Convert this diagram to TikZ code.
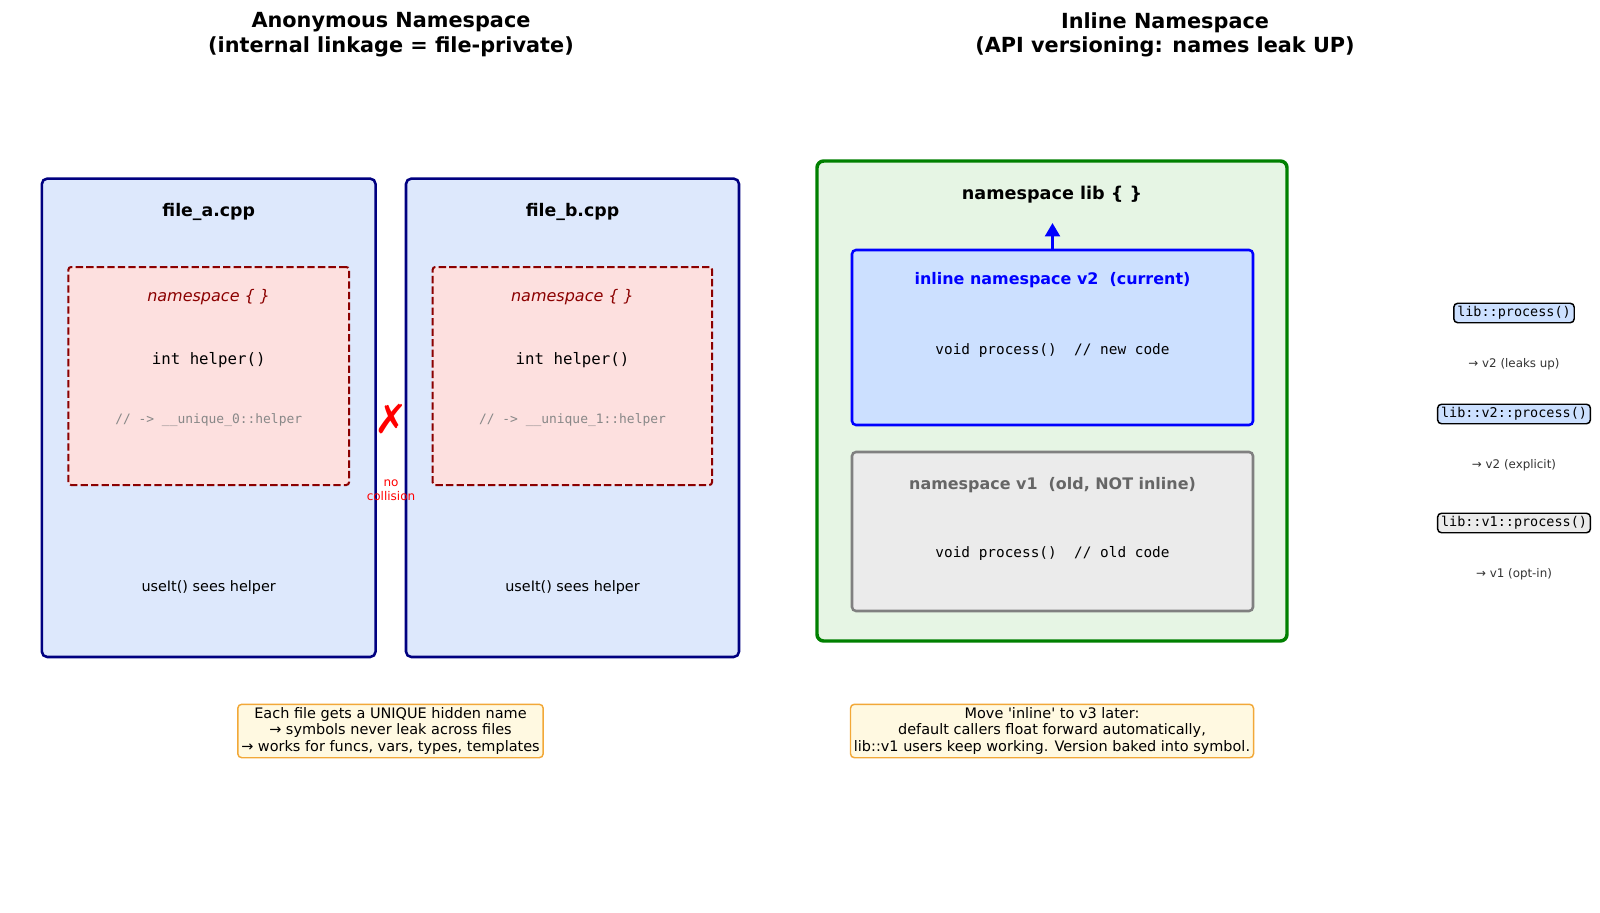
\documentclass[tikz,border=0pt]{standalone}
\usepackage{fontspec}
\setmainfont{DejaVu Sans}[Ligatures=TeXOff]
\setmonofont{DejaVu Sans Mono}
\usetikzlibrary{arrows.meta, positioning}

\definecolor{filefill}{HTML}{DDE8FC}
\definecolor{fileline}{HTML}{000080}
\definecolor{nsfill}{HTML}{FDE0DF}
\definecolor{nsline}{HTML}{8B0000}
\definecolor{libfill}{HTML}{E6F5E4}
\definecolor{libline}{HTML}{008000}
\definecolor{newfill}{HTML}{CCE0FF}
\definecolor{oldfill}{HTML}{EBEBEB}
\definecolor{oldline}{HTML}{808080}
\definecolor{oldtext}{HTML}{666666}
\definecolor{commenttext}{HTML}{888888}
\definecolor{notefill}{HTML}{FFF9E1}
\definecolor{noteline}{HTML}{F2A838}
\definecolor{hinttext}{HTML}{333333}

\begin{document}
\begin{tikzpicture}[
    x=0.75pt, y=-0.75pt,
    wh/.style 2 args={
      minimum width={#1*0.75pt},
      minimum height={#2*0.75pt}
    },
    title/.style={
      align=center,
      font=\bfseries\fontsize{15.6}{18.4}\selectfont
    },
    filebox/.style={
      rectangle,
      rounded corners=4pt,
      draw=fileline,
      fill=filefill,
      line width=1.9pt
    },
    nsbox/.style={
      rectangle,
      rounded corners=2pt,
      draw=nsline,
      fill=nsfill,
      line width=1.5pt,
      dash pattern=on 5.5pt off 2.4pt
    },
    libbox/.style={
      rectangle,
      rounded corners=5pt,
      draw=libline,
      fill=libfill,
      line width=2.6pt
    },
    verbox/.style={
      rectangle,
      rounded corners=3pt,
      line width=1.9pt
    },
    boxlabel/.style={
      font=\bfseries\fontsize{13}{15.6}\selectfont
    },
    nslabel/.style={
      text=nsline,
      font=\itshape\fontsize{12}{14.4}\selectfont
    },
    code/.style={
      font=\ttfamily\fontsize{10.8}{13}\selectfont
    },
    comment/.style={
      text=commenttext,
      font=\ttfamily\fontsize{9.7}{11.6}\selectfont
    },
    plain/.style={
      font=\fontsize{10.8}{13}\selectfont
    },
    note/.style={
      rectangle,
      rounded corners=3pt,
      draw=noteline,
      fill=notefill,
      line width=1.1pt,
      align=center,
      inner sep=2.6pt,
      font=\fontsize{10.85}{12.2}\selectfont
    },
    tag/.style={
      rectangle,
      rounded corners=3pt,
      draw=black,
      line width=1.1pt,
      inner xsep=2.6pt,
      inner ysep=2.4pt,
      font=\ttfamily\fontsize{10.1}{12}\selectfont
    },
    hint/.style={
      text=hinttext,
      font=\fontsize{8.9}{10.6}\selectfont
    },
    arrow/.style={
      -{Triangle[width=11pt,length=10pt]},
      line width=2.2pt,
      blue
    }
  ]
  \useasboundingbox (0,0) rectangle (1600,913);

  % Titles
  \node[title] (titleanon) at (391,34.7) {Anonymous Namespace\\(internal linkage = file-private)};
  \node[title] (titleinline) at (1165,34.7) {Inline Namespace\\(API versioning: names leak UP)};

  % Two translation units
  \node[filebox, wh={333.7}{478.4}] (filea) at (208.7,417.8) {};
  \node[filebox, wh={333}{478.4}] (fileb) at (572.5,417.8) {};
  \node[nsbox, wh={280.6}{218}] (nsa) at (208.7,376) {};
  \node[nsbox, wh={279.4}{218}] (nsb) at (572.3,376) {};

  \node[boxlabel] (filealbl) at (208.7,212) {file\_a.cpp};
  \node[boxlabel] (fileblbl) at (572.5,212) {file\_b.cpp};
  \node[nslabel] (nsalbl) at (208.7,297) {namespace \{ \}};
  \node[nslabel] (nsblbl) at (572.5,297) {namespace \{ \}};
  \node[code, font=\ttfamily\fontsize{11.8}{14}\selectfont] (helpera) at (208.7,360) {int helper()};
  \node[code, font=\ttfamily\fontsize{11.8}{14}\selectfont] (helperb) at (572.5,360) {int helper()};
  \node[comment] (manglea) at (208.7,420) {// -> \_\_unique\_0::helper};
  \node[comment] (mangleb) at (572.5,420) {// -> \_\_unique\_1::helper};
  \node[plain] (usea) at (208.7,588) {useIt() sees helper};
  \node[plain] (useb) at (572.5,588) {useIt() sees helper};

  % No collision mark
  \node[text=red, font=\bfseries\fontsize{30}{34}\selectfont] (cross) at (391,419) {✗};
  \node[text=red, align=center, font=\fontsize{9}{10.4}\selectfont] (nocoll) at (391,490) {no\\collision};

  % Library namespace
  \node[libbox, wh={470}{480}] (lib) at (1052,401) {};
  \node[boxlabel, font=\bfseries\fontsize{13.2}{15.8}\selectfont] (liblbl) at (1052,195) {namespace lib \{ \}};
  \node[verbox, draw=blue, fill=newfill, wh={401}{175}] (v2) at (1052.5,337.5) {};
  \node[verbox, draw=oldline, fill=oldfill, wh={401}{159}] (v1) at (1052.5,531.5) {};
  \node[boxlabel, text=blue, font=\bfseries\fontsize{11.95}{14.3}\selectfont] (v2lbl) at (1052.5,280) {inline namespace v2\ \ (current)};
  \node[code] (v2code) at (1052.5,351) {void process()\ \ // new code};
  \node[boxlabel, text=oldtext, font=\bfseries\fontsize{11.95}{14.3}\selectfont] (v1lbl) at (1052.5,485) {namespace v1\ \ (old, NOT inline)};
  \node[code] (v1code) at (1052.5,553) {void process()\ \ // old code};

  \coordinate (leakup) at (1052.5,223);
  \draw[arrow] (v2.north) -- (leakup);

  % Lookup results
  \node[tag, fill=newfill] (callplain) at (1514,313) {lib::process()};
  \node[hint] (hintplain) at (1514,364) {→ v2 (leaks up)};
  \node[tag, fill=newfill] (callv2) at (1514,414) {lib::v2::process()};
  \node[hint] (hintv2) at (1514,465) {→ v2 (explicit)};
  \node[tag, fill=oldfill] (callv1) at (1514,523) {lib::v1::process()};
  \node[hint] (hintv1) at (1514,574) {→ v1 (opt-in)};

  % Notes
  \node[note] (noteanon) at (390.5,731) {Each file gets a UNIQUE hidden name\\→ symbols never leak across files\\→ works for funcs, vars, types, templates};
  \node[note] (noteinline) at (1052,731) {Move 'inline' to v3 later:\\default callers float forward automatically,\\lib::v1 users keep working. Version baked into symbol.};

\end{tikzpicture}
\end{document}
